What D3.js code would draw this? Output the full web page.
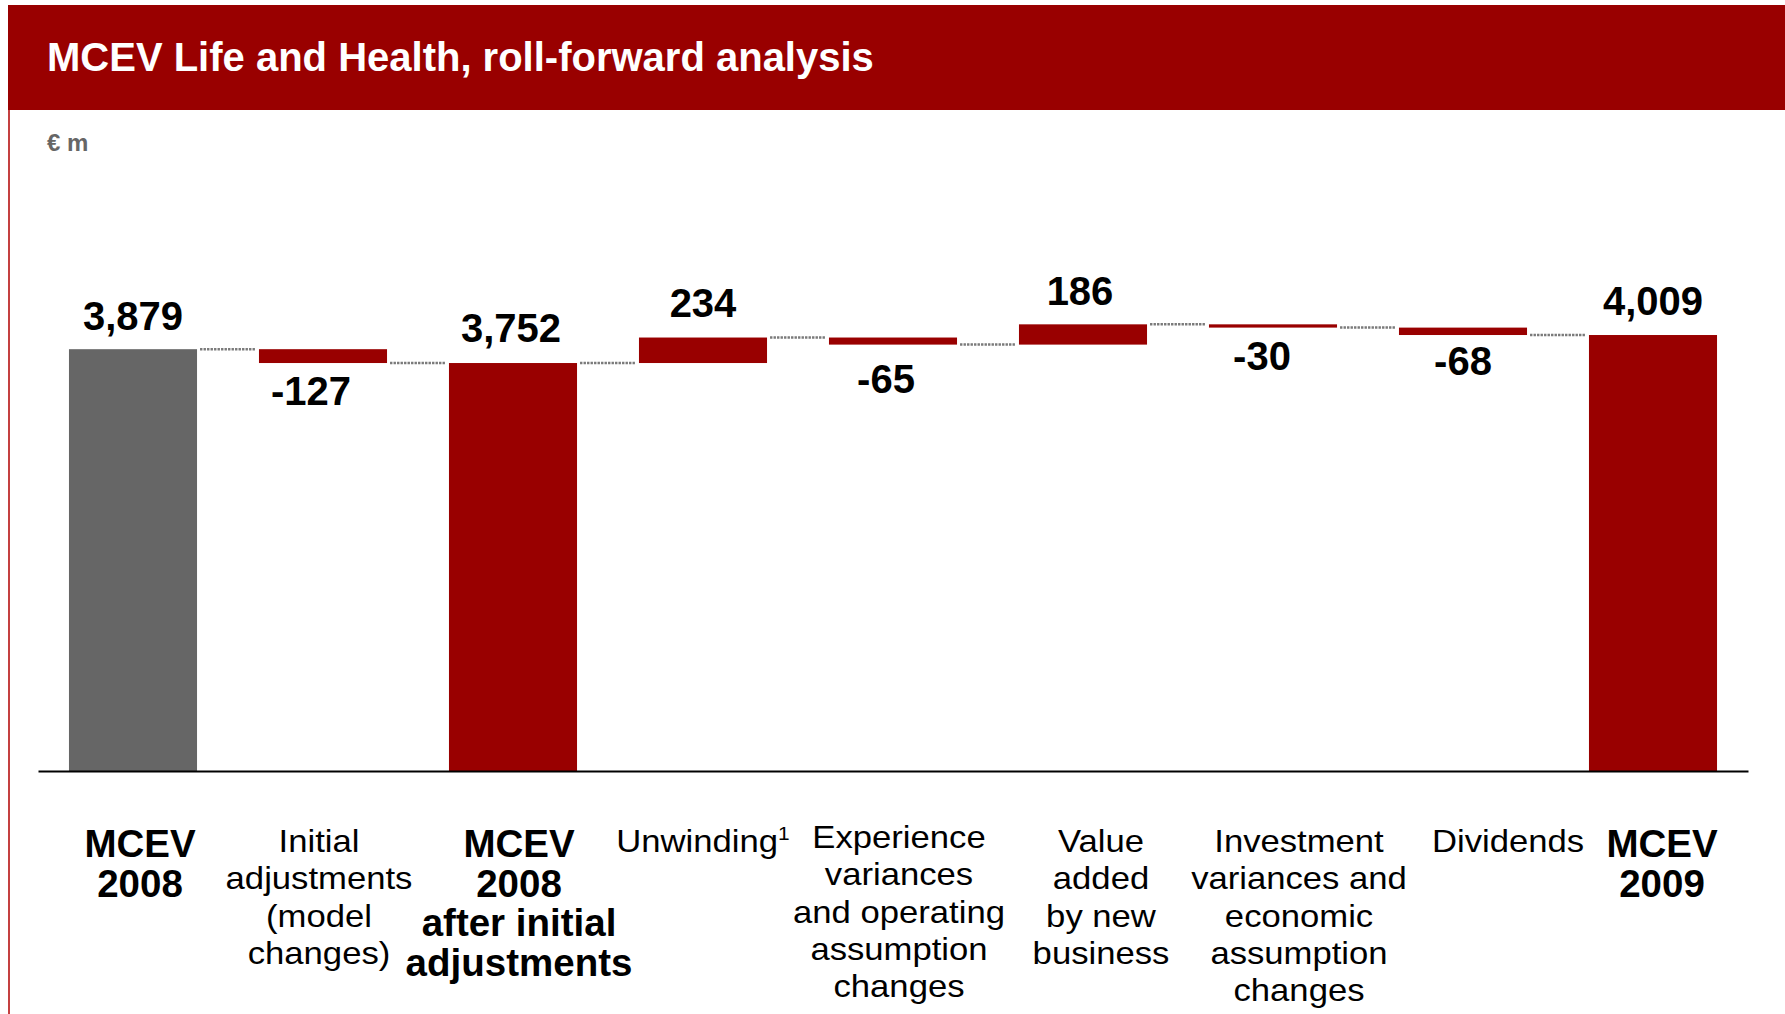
<!DOCTYPE html>
<html>
<head>
<meta charset="utf-8">
<script src="https://cdn.jsdelivr.net/npm/d3@7"></script>
<style>
  html, body { margin: 0; padding: 0; background: #ffffff; }
  svg { display: block; font-family: "Liberation Sans", Arial, Helvetica, sans-serif; }
</style>
</head>
<body>
<svg id="chart" width="1785" height="1014"></svg>
<script>
// Roll-forward steps, in € m
const categories = [
  ["MCEV", "2008"],
  ["Initial", "adjustments", "(model", "changes)"],
  ["MCEV", "2008", "after initial", "adjustments"],
  ["Unwinding"],
  ["Experience", "variances", "and operating", "assumption", "changes"],
  ["Value", "added", "by new", "business"],
  ["Investment", "variances and", "economic", "assumption", "changes"],
  ["Dividends"],
  ["MCEV", "2009"]
];
const footnotes = ["", "", "", "1", "", "", "", "", ""];
const values = [3879, -127, 3752, 234, -65, 186, -30, -68, 4009];
const barKinds = ["start", "step", "subtotal", "step", "step", "step", "step", "step", "total"];

// Hand-placement nudges (px) for captions and value labels
const captionShift = [7, -4, 6, 0, 6, 18, 26, 45, 9];
const valueShiftX = [0, -12, -2, 0, -7, -3, -11, 0, 0];
const valueShiftY = [0, 0, -2, -2, 6, 0, 0, -2, -1];

const W = 1785, H = 1014;
const RED = "#990000", GREY = "#666666";

const svg = d3.select("#chart");
svg.append("rect").attr("width", W).attr("height", H).attr("fill", "#ffffff");

// Header band and frame
svg.append("line")
  .attr("x1", 9).attr("x2", 9).attr("y1", 5).attr("y2", H)
  .attr("stroke", "#b00000").attr("stroke-width", 1.5);
svg.append("rect")
  .attr("x", 8).attr("y", 5).attr("width", W - 8).attr("height", 105)
  .attr("fill", RED);
svg.append("text")
  .attr("x", 47).attr("y", 71)
  .attr("fill", "#ffffff").attr("font-size", 40).attr("font-weight", "bold")
  .text("MCEV Life and Health, roll-forward analysis");
svg.append("text")
  .attr("x", 47).attr("y", 151)
  .attr("fill", GREY).attr("font-size", 24).attr("font-weight", "bold")
  .text("€ m");

// Waterfall geometry
let running = 0;
const bars = values.map((v, i) => {
  let start, end;
  if (barKinds[i] === "step") {
    start = running; end = running + v; running = end;
  } else {
    start = 0; end = v; running = v;
  }
  return { i, v, kind: barKinds[i], lo: Math.min(start, end), hi: Math.max(start, end), level: end };
});

const x = d3.scaleBand()
  .domain(d3.range(values.length))
  .range([38, 1748])
  .paddingInner(0.326)
  .paddingOuter(0.163);
const y = d3.scaleLinear().domain([0, 4000]).range([772, 336]);

const fmt = d3.formatLocale({ decimal: ".", thousands: ",", grouping: [3], currency: ["", ""], minus: "-" }).format(",");

// Dotted connectors at each running level
svg.append("g").selectAll("line")
  .data(bars.slice(0, -1))
  .join("line")
  .attr("x1", d => x(d.i) + x.bandwidth() + 3)
  .attr("x2", d => x(d.i + 1) - 4)
  .attr("y1", d => y(d.level))
  .attr("y2", d => y(d.level))
  .attr("stroke", "#7a7a7a")
  .attr("stroke-width", 2.5)
  .attr("stroke-dasharray", "2.4,1.1");

// Bars
svg.append("g").selectAll("rect")
  .data(bars)
  .join("rect")
  .attr("x", d => x(d.i))
  .attr("width", x.bandwidth())
  .attr("y", d => y(d.hi))
  .attr("height", d => y(d.lo) - y(d.hi))
  .attr("fill", d => d.kind === "start" ? GREY : RED);

// Baseline axis
const axis = svg.append("g")
  .attr("transform", "translate(0,771)")
  .call(d3.axisBottom(x).tickSize(0).tickSizeOuter(0).tickFormat(""));
axis.select(".domain").attr("stroke", "#000").attr("stroke-width", 2);

// Value labels
svg.append("g").selectAll("text")
  .data(bars)
  .join("text")
  .attr("x", d => x(d.i) + x.bandwidth() / 2 + valueShiftX[d.i])
  .attr("y", d => (d.v >= 0 ? y(d.hi) - 19 : y(d.lo) + 42) + valueShiftY[d.i])
  .attr("text-anchor", "middle")
  .attr("font-size", 40)
  .attr("font-weight", "bold")
  .attr("fill", "#000")
  .text(d => fmt(d.v));

// Category captions
const caps = svg.append("g").selectAll("g")
  .data(bars)
  .join("g")
  .attr("transform", d => `translate(${x(d.i) + x.bandwidth() / 2 + captionShift[d.i]},0)`);

caps.each(function(d) {
  const bold = d.kind !== "step";
  const lines = categories[d.i];
  const t = d3.select(this).append("text")
    .attr("text-anchor", "middle")
    .attr("fill", "#000")
    .attr("font-weight", bold ? "bold" : "normal")
    .attr("font-size", bold ? 38.5 : 31.5)
    .attr("transform", bold ? null : "scale(1.1,1)");
  const top = bold ? 857 : (d.i === 4 ? 848 : 852);
  const step = bold ? 39.5 : 37.3;
  lines.forEach((ln, k) => {
    t.append("tspan").attr("x", 0).attr("y", top + k * step).text(ln);
    if (k === lines.length - 1 && footnotes[d.i]) {
      t.append("tspan")
        .attr("font-size", 19)
        .attr("dy", -12)
        .text(footnotes[d.i]);
    }
  });
});
</script>
</body>
</html>
